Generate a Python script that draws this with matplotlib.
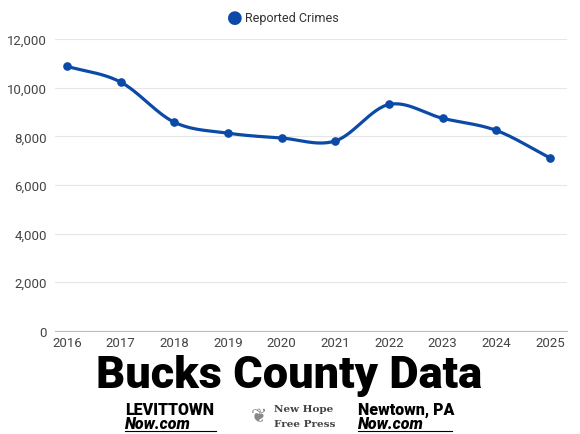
import numpy as np
import matplotlib
matplotlib.use('Agg')
from matplotlib import pyplot as plt

years = [2016, 2017, 2018, 2019, 2020, 2021, 2022, 2023, 2024, 2025]
crimes = [10880, 10230, 8580, 8130, 7930, 7810, 9310, 8740, 8240, 7110]
yticks = [0, 2000, 4000, 6000, 8000, 10000, 12000]

BLUE = '#0b4aa6'


def catmull_rom(x, y, steps=30):
	# smooth curve through the points, like the source chart's spline
	x = np.asarray(x, float)
	y = np.asarray(y, float)
	px = np.concatenate([[2 * x[0] - x[1]], x, [2 * x[-1] - x[-2]]])
	py = np.concatenate([[2 * y[0] - y[1]], y, [2 * y[-1] - y[-2]]])
	xs, ys = [], []
	t = np.linspace(0, 1, steps)
	for i in range(1, len(px) - 2):
		for p, out in ((px, xs), (py, ys)):
			p0, p1, p2, p3 = p[i - 1], p[i], p[i + 1], p[i + 2]
			out.extend(0.5 * ((2 * p1) + (-p0 + p2) * t
				+ (2 * p0 - 5 * p1 + 4 * p2 - p3) * t ** 2
				+ (-p0 + 3 * p1 - 3 * p2 + p3) * t ** 3))
	return np.array(xs), np.array(ys)


plt.rcParams['font.family'] = ['Roboto', 'DejaVu Sans']
fig = plt.figure(figsize=(5.8, 4.35), dpi=100)
ax = fig.add_axes([0.095, 0.237, 0.883, 0.671])

sx, sy = catmull_rom(years, crimes)
ax.plot(sx, sy, color=BLUE, lw=2.3, solid_capstyle='round', zorder=3)
ax.plot(years, crimes, 'o', color=BLUE, ms=5.2, zorder=4)

ax.set_xlim(2015.78, 2025.32)
ax.set_ylim(0, 12000)
ax.set_yticks(yticks)
ax.set_yticklabels([f'{v:,}' for v in yticks])
ax.set_xticks(years)
ax.set_xticklabels([str(y) for y in years])
ax.grid(axis='y', color='#e6e6e6', lw=0.8)
ax.set_axisbelow(True)
for s in ['top', 'right', 'left']:
	ax.spines[s].set_visible(False)
ax.spines['bottom'].set_color('#bbbbbb')
ax.tick_params(length=0, labelsize=9.5, colors='#444444')
ax.tick_params(axis='x', pad=4)
ax.tick_params(axis='y', pad=6)

# legend
fig.text(0.405, 0.958, '\u25cf', color=BLUE, fontsize=13, ha='center', va='center')
fig.text(0.422, 0.958, 'Reported Crimes', color='#333333', fontsize=9, ha='left', va='center')

# title
fig.text(0.498, 0.108, 'Bucks County Data', fontsize=32.5, fontweight='heavy',
	ha='center', va='baseline', color='black')

# publisher marks
fig.text(0.215, 0.058, 'LEVITTOWN', fontsize=11.5, fontweight='heavy', ha='left', va='center')
fig.text(0.215, 0.025, 'Now.com', fontsize=11.5, fontweight='heavy', style='italic', ha='left', va='center')
fig.add_artist(plt.Line2D([0.215, 0.372], [0.008, 0.008], color='black', lw=0.8))
fig.text(0.473, 0.058, 'New Hope', fontsize=7.5, family='DejaVu Serif', fontweight='bold',
	ha='left', va='center', color='#444444')
fig.text(0.473, 0.025, 'Free Press', fontsize=7.5, family='DejaVu Serif', fontweight='bold',
	ha='left', va='center', color='#444444')
fig.text(0.447, 0.042, '\u2766', fontsize=14, ha='center', va='center', color='#888888', family='DejaVu Sans')
fig.text(0.617, 0.058, 'Newtown, PA', fontsize=11.5, fontweight='heavy', ha='left', va='center')
fig.text(0.617, 0.025, 'Now.com', fontsize=11.5, fontweight='heavy', style='italic', ha='left', va='center')
fig.add_artist(plt.Line2D([0.617, 0.78], [0.008, 0.008], color='black', lw=0.8))

fig.savefig('out.png', dpi=100)
